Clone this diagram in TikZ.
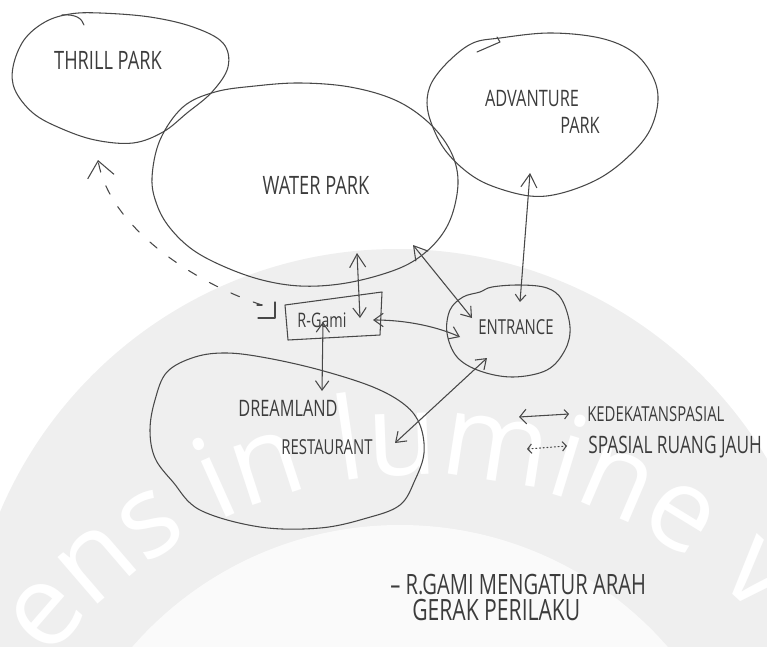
\documentclass[tikz,border=0pt]{standalone}
\usepackage{fontspec}
\setmainfont{Open Sans}
\newfontfamily\hand[FakeStretch=0.72]{Open Sans}
\usetikzlibrary{arrows.meta,decorations.text}

\definecolor{ink}{RGB}{72,72,72}
\definecolor{inktext}{RGB}{60,60,60}
\definecolor{wmgray}{RGB}{239,239,239}
\definecolor{wminner}{RGB}{250,250,250}

\tikzset{
  pen/.style={draw=ink, line width=0.8pt, line cap=round, line join=round},
  handtext/.style={font=\hand\fontsize{#1}{#1}\selectfont, text=inktext, inner sep=0pt},
  bigbarb/.tip={Straight Barb[length=10pt,width=12pt]},
  midbarb/.tip={Straight Barb[length=7pt,width=10pt]},
  smallbarb/.tip={Straight Barb[length=5pt,width=8pt]},
}

\begin{document}
\begin{tikzpicture}[x=0.75pt,y=-0.75pt]
\useasboundingbox (0,0) rectangle (767,646);

% background seal: grey ring with its motto in white
\begin{scope}
  \clip (0,0) rectangle (767,646);
  \fill[wmgray] (397,680) circle[radius=431];
  \fill[wminner] (400,880) circle[radius=355];
  \path[decorate, decoration={text along path, text align=left,
      text={|\color{white}\fontsize{86}{86}\selectfont|ens in lumine ve}}]
    (421,940) ++(217:465) arc[start angle=217, end angle=326, radius=465];
\end{scope}

% zones
\draw[pen] plot[smooth cycle, tension=0.6] coordinates {
  (70,14) (100,13) (150,17) (193,27) (223,43) (228,67) (212,92) (187,113)
  (163,132) (133,143) (95,140) (60,128) (33,113) (15,90) (13,67) (24,40) (45,22)};
\draw[pen] (62,15) .. controls (75,14) and (82,18) .. (84,25);

\draw[pen] plot[smooth cycle, tension=0.6] coordinates {
  (152,178) (160,140) (183,107) (215,92) (255,86) (300,83) (350,87) (395,100)
  (428,122) (450,150) (458,180) (452,215) (437,241) (412,262) (380,275)
  (340,284) (300,286) (262,280) (225,267) (193,250) (170,228) (157,205)};

\draw[pen] plot[smooth cycle, tension=0.6] coordinates {
  (450,60) (473,43) (500,38) (550,33) (600,38) (633,52) (652,75) (658,100)
  (650,130) (630,155) (600,178) (562,193) (530,196) (492,186) (467,172)
  (445,150) (432,125) (427,103) (432,82)};
\draw[pen] (477,52) -- (500,42) -- (497,37);

\draw[pen] plot[smooth cycle, tension=0.6] coordinates {
  (447,333) (450,310) (463,297) (480,292) (492,287) (520,285) (547,288)
  (562,300) (570,327) (565,350) (547,370) (513,377) (480,371) (457,357)};

\draw[pen] plot[smooth cycle, tension=0.6] coordinates {
  (150,430) (155,400) (167,372) (195,357) (227,353) (267,358) (320,370)
  (373,387) (405,405) (420,425) (424,453) (415,480) (400,505) (367,518)
  (320,528) (260,527) (200,510) (173,482) (155,458)};

\draw[pen] (285,305) -- (382,292) -- (380,335) -- (288,340) -- cycle;

% labels
\node[handtext=19] (thrill) at (108,60) {THRILL PARK};
\node[handtext=19] (water) at (316,185) {WATER PARK};
\node[handtext=17] (adv1) at (532,98) {ADVANTURE};
\node[handtext=17] (adv2) at (580,125) {PARK};
\node[handtext=15] (rgami) at (322,320) {R-Gami};
\node[handtext=15.5] (entrance) at (516,327) {ENTRANCE};
\node[handtext=17] (dream1) at (288,408) {DREAMLAND};
\node[handtext=15.5] (dream2) at (327,447) {RESTAURANT};

% connector ends
\coordinate (wpR) at (357,253);
\coordinate (rgW) at (360,318);
\coordinate (wpE) at (413,245);
\coordinate (enW) at (472,318);
\coordinate (apE) at (530,173);
\coordinate (enA) at (520,302);
\coordinate (rgE) at (373,320);
\coordinate (enR) at (460,337);
\coordinate (rgD) at (323,322);
\coordinate (drR) at (322,391);
\coordinate (enD) at (487,358);
\coordinate (drE) at (395,443);
\coordinate (rgT) at (262,305);
\coordinate (tpR) at (98,160);

% spatial links
\draw[pen, {bigbarb}-{midbarb}] (wpR) -- (rgW);
\draw[pen, {bigbarb}-{midbarb}] (wpE) -- (enW);
\draw[pen, {bigbarb}-{smallbarb}] (apE) -- (enA);
\draw[pen, {midbarb}-{midbarb}] (rgE) .. controls (410,320) and (440,328) .. (enR);
\draw[pen, {midbarb}-{midbarb}] (rgD) -- (drR);
\draw[pen, {midbarb}-{midbarb}] (enD) -- (drE);

% distant link to the thrill park
\draw[pen, dash pattern=on 7pt off 11pt, -{Straight Barb[length=12pt,width=20pt]}]
  (rgT) .. controls (200,285) and (110,230) .. (tpR);
\draw[pen] (257,305) -- (262,305);
\draw[pen] (258,318) -- (275,318) -- (275,302);

% legend
\coordinate (k1) at (519,417);
\coordinate (k2) at (569,414);
\coordinate (s1) at (527,449);
\coordinate (s2) at (567,446);
\draw[pen, {Straight Barb[length=5pt,width=11pt]}-{Straight Barb[length=3pt,width=7pt]}] (k1) -- (k2);
\draw[pen, dotted, {Straight Barb[length=3pt,width=7pt]}-{Straight Barb[length=3pt,width=7pt]}] (s1) -- (s2);
\node[handtext=15.5, anchor=west] (leg1) at (587,414) {KEDEKATANSPASIAL};
\node[handtext=18, anchor=west] (leg2) at (588,447) {SPASIAL RUANG JAUH};

% note
\node[handtext=21, anchor=west] (note1) at (390,585) {– R.GAMI MENGATUR ARAH};
\node[handtext=22, anchor=west] (note2) at (412,610) {GERAK PERILAKU};
\end{tikzpicture}
\end{document}
